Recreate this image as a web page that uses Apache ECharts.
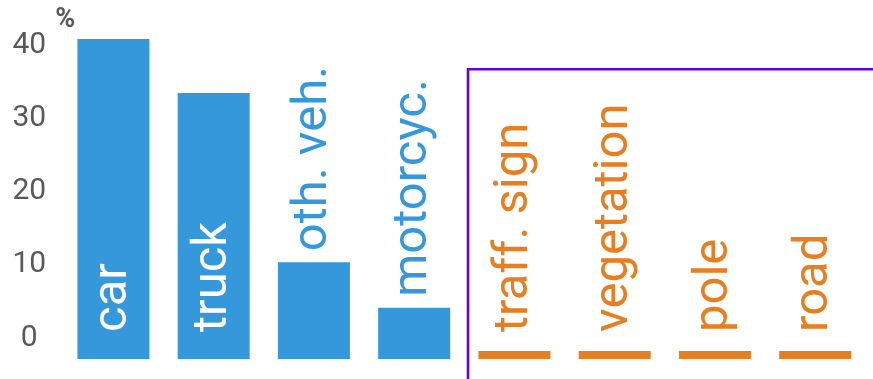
<!DOCTYPE html>
<html>
<head>
<meta charset="utf-8">
<script src="https://cdn.jsdelivr.net/npm/echarts@6/dist/echarts.min.js"></script>
<style>
  html, body { margin: 0; padding: 0; background: #fff; }
  #chart { width: 873px; height: 379px; }
</style>
</head>
<body>
<div id="chart"></div>
<script>
// Class names along the x axis
const categories = ['car', 'truck', 'oth. veh.', 'motorcyc.', 'traff. sign', 'vegetation', 'pole', 'road'];
// Share (%) for the vehicle classes (blue) and the static classes (orange)
const vehicleShare = [43.7, 36.3, 13.2, 7.0, null, null, null, null];
const staticShare = [null, null, null, null, 1.1, 1.1, 1.1, 1.1];
// Value-axis ticks
const yTicks = [0, 10, 20, 30, 40];

const BLUE = '#3598db';
const ORANGE = '#e67e22';
const FONT = 'Roboto';

const baseLabel = {
  show: true,
  formatter: '{b}',
  rotate: 90,
  align: 'left',
  verticalAlign: 'middle',
  fontFamily: FONT,
  fontSize: 49
};

// Tall bars carry their name inside, short ones above the bar
const vehicleData = vehicleShare.map(function (v) {
  if (v == null) return '-';
  const inside = v > 20;
  return {
    value: v,
    label: inside
      ? { position: 'insideBottom', distance: 27, color: '#ffffff' }
      : { position: 'top', distance: 11, color: BLUE }
  };
});
const staticData = staticShare.map(function (v) { return v == null ? '-' : v; });

const chart = echarts.init(document.getElementById('chart'), null, { renderer: 'canvas' });
chart.setOption({
  animation: false,
  backgroundColor: '#ffffff',
  grid: { left: 63.3, right: 7.7, top: 36.7, bottom: 20, containLabel: false },
  xAxis: {
    type: 'category',
    data: categories,
    axisLine: { show: false },
    axisTick: { show: false },
    axisLabel: { show: false },
    splitLine: { show: false }
  },
  yAxis: {
    type: 'value',
    min: 0,
    max: 44,
    interval: 10,
    name: '%',
    nameLocation: 'end',
    nameGap: 3,
    nameTextStyle: {
      fontFamily: FONT,
      fontSize: 27,
      fontWeight: 'bold',
      color: '#595959',
      align: 'center',
      verticalAlign: 'bottom',
      padding: [0, 0, 0, 4]
    },
    axisLine: { show: false },
    axisTick: { show: false },
    splitLine: { show: false },
    axisLabel: {
      fontFamily: FONT,
      fontSize: 30,
      color: '#595959',
      align: 'center',
      // labels sit above their tick
      verticalAlign: 'bottom',
      lineHeight: 42,
      margin: 34,
      formatter: function (v) { return yTicks.indexOf(v) >= 0 ? String(v) : ''; }
    }
  },
  series: [
    {
      name: 'vehicles',
      type: 'bar',
      stack: 'share',
      barWidth: 72,
      itemStyle: { color: BLUE },
      label: baseLabel,
      data: vehicleData
    },
    {
      name: 'static',
      type: 'bar',
      stack: 'share',
      barWidth: 72,
      itemStyle: { color: ORANGE },
      label: Object.assign({}, baseLabel, { position: 'insideBottom', distance: 27, color: ORANGE }),
      data: staticData
    }
  ],
  graphic: [
    {
      type: 'rect',
      silent: true,
      shape: { x: 468, y: 69.2, width: 430, height: 340 },
      style: { fill: 'none', stroke: '#6a00d9', lineWidth: 2.6 }
    }
  ]
});
</script>
</body>
</html>
